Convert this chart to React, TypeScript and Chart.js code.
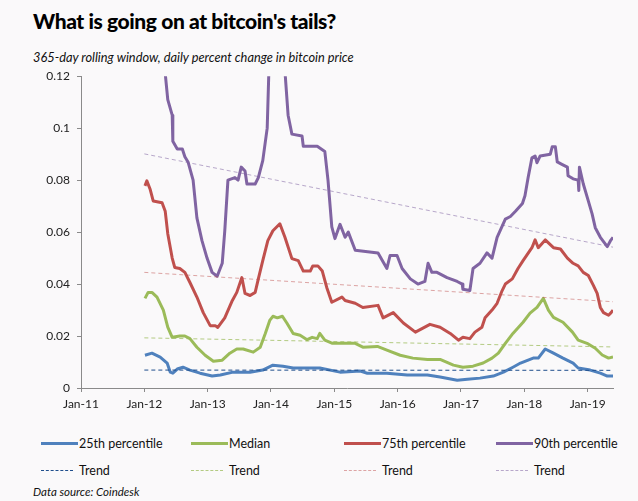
import { useEffect, useRef } from "react"
import { Chart, registerables } from "chart.js"

Chart.register(...registerables)

// x axis ticks (decimal years) and their labels
const tickYears = [2011, 2012, 2013, 2014, 2015, 2016, 2017, 2018, 2019]
const tickLabels = ["Jan-11", "Jan-12", "Jan-13", "Jan-14", "Jan-15", "Jan-16", "Jan-17", "Jan-18", "Jan-19"]

// 25th percentile
const dates25 = [
  2012.01, 2012.12, 2012.25, 2012.36, 2012.41, 2012.45, 2012.52, 2012.61, 2012.72, 2012.88,
  2013.07, 2013.2, 2013.4, 2013.67, 2013.87, 2014.03, 2014.19, 2014.35, 2014.77, 2015.09,
  2015.41, 2015.52, 2015.83, 2016.15, 2016.47, 2016.67, 2016.94, 2017.1, 2017.3, 2017.51,
  2017.67, 2017.82, 2017.94, 2018.14, 2018.22, 2018.33, 2018.46, 2018.61, 2018.77, 2018.85,
  2019.04, 2019.2, 2019.31, 2019.4,
]
const pct25 = [
  0.0126, 0.0134, 0.0119, 0.0096, 0.0061, 0.0057, 0.0073, 0.008, 0.0069, 0.0057,
  0.0046, 0.005, 0.0061, 0.0061, 0.0069, 0.0088, 0.0084, 0.0077, 0.0077, 0.0061,
  0.0065, 0.0057, 0.0057, 0.005, 0.005, 0.0042, 0.003, 0.0034, 0.0038, 0.0046,
  0.0061, 0.008, 0.0096, 0.0115, 0.0115, 0.015, 0.0134, 0.0115, 0.0096, 0.0077,
  0.0069, 0.0057, 0.0046, 0.0046,
]

// median
const datesMed = [
  2012.01, 2012.06, 2012.12, 2012.2, 2012.3, 2012.37, 2012.44, 2012.56, 2012.64, 2012.72,
  2012.83, 2012.96, 2013.09, 2013.23, 2013.35, 2013.46, 2013.56, 2013.72, 2013.83, 2013.91,
  2013.98, 2014.03, 2014.1, 2014.18, 2014.25, 2014.35, 2014.46, 2014.57, 2014.65, 2014.73,
  2014.77, 2014.85, 2014.97, 2015.33, 2015.45, 2015.68, 2015.83, 2016.04, 2016.24, 2016.47,
  2016.67, 2016.88, 2017.03, 2017.19, 2017.35, 2017.49, 2017.59, 2017.7, 2017.82, 2017.98,
  2018.09, 2018.2, 2018.3, 2018.38, 2018.46, 2018.61, 2018.76, 2018.85, 2018.99, 2019.12,
  2019.23, 2019.33, 2019.4,
]
const pctMed = [
  0.0345, 0.0368, 0.0368, 0.035, 0.03, 0.0234, 0.0195, 0.02, 0.02, 0.019,
  0.0157, 0.0126, 0.0103, 0.0107, 0.0134, 0.015, 0.015, 0.0138, 0.0157, 0.021,
  0.026, 0.0276, 0.027, 0.0276, 0.025, 0.021, 0.0203, 0.0186, 0.0195, 0.019,
  0.021, 0.0184, 0.0172, 0.0172, 0.0157, 0.016, 0.0146, 0.0126, 0.0115, 0.011,
  0.011, 0.0088, 0.008, 0.0084, 0.0096, 0.0115, 0.0134, 0.0172, 0.021, 0.0253,
  0.0288, 0.031, 0.0345, 0.03, 0.0272, 0.0253, 0.0215, 0.0184, 0.0172, 0.0153,
  0.0127, 0.0115, 0.0119,
]

// 75th percentile
const dates75 = [
  2012.01, 2012.04, 2012.09, 2012.14, 2012.28, 2012.33, 2012.37, 2012.44, 2012.48, 2012.56,
  2012.64, 2012.72, 2012.83, 2012.93, 2013.04, 2013.12, 2013.16, 2013.27, 2013.39, 2013.46,
  2013.54, 2013.59, 2013.67, 2013.75, 2013.8, 2013.87, 2013.95, 2014.03, 2014.14, 2014.22,
  2014.33, 2014.43, 2014.51, 2014.62, 2014.66, 2014.74, 2014.81, 2014.88, 2014.96, 2015.12,
  2015.17, 2015.33, 2015.45, 2015.69, 2015.77, 2015.93, 2016.09, 2016.28, 2016.51, 2016.67,
  2016.83, 2016.96, 2017.03, 2017.14, 2017.22, 2017.33, 2017.38, 2017.49, 2017.57, 2017.65,
  2017.7, 2017.81, 2017.9, 2017.98, 2018.12, 2018.17, 2018.22, 2018.33, 2018.46, 2018.57,
  2018.68, 2018.77, 2018.85, 2018.93, 2019.01, 2019.09, 2019.15, 2019.2, 2019.25, 2019.33,
  2019.37, 2019.4,
]
const pct75 = [
  0.0778, 0.0797, 0.0766, 0.072, 0.0713, 0.068, 0.0594, 0.05, 0.0464, 0.046,
  0.0445, 0.0406, 0.035, 0.029, 0.024, 0.024, 0.0233, 0.027, 0.0337, 0.0368,
  0.0425, 0.0364, 0.0356, 0.0368, 0.042, 0.049, 0.0567, 0.0605, 0.0632, 0.058,
  0.0498, 0.049, 0.045, 0.045, 0.047, 0.047, 0.045, 0.0387, 0.033, 0.035,
  0.0337, 0.0326, 0.031, 0.0318, 0.027, 0.029, 0.025, 0.0215, 0.0245, 0.0234,
  0.021, 0.0184, 0.0195, 0.019, 0.0215, 0.0234, 0.027, 0.03, 0.0326, 0.0375,
  0.04, 0.042, 0.046, 0.049, 0.054, 0.057, 0.054, 0.057, 0.054, 0.0535,
  0.05, 0.048, 0.047, 0.0445, 0.0433, 0.0395, 0.0364, 0.031, 0.029, 0.028,
  0.029, 0.03,
]

// 90th percentile (goes off the top of the chart twice)
const dates90 = [
  2012.01, 2012.25, 2012.33, 2012.37, 2012.44, 2012.45, 2012.52, 2012.6, 2012.64, 2012.69,
  2012.77, 2012.83, 2012.91, 2012.99, 2013.07, 2013.15, 2013.23, 2013.27, 2013.32, 2013.43,
  2013.48, 2013.53, 2013.59, 2013.62, 2013.75, 2013.8, 2013.87, 2013.94, 2013.97, 2014.02,
  2014.15, 2014.22, 2014.27, 2014.33, 2014.49, 2014.51, 2014.73, 2014.85, 2014.9, 2014.96,
  2015.01, 2015.09, 2015.17, 2015.22, 2015.33, 2015.69, 2015.83, 2015.88, 2015.99, 2016.07,
  2016.2, 2016.32, 2016.43, 2016.48, 2016.54, 2016.62, 2016.78, 2016.94, 2017.02, 2017.03,
  2017.14, 2017.19, 2017.3, 2017.41, 2017.49, 2017.57, 2017.7, 2017.78, 2017.86, 2017.97,
  2018.01, 2018.06, 2018.12, 2018.17, 2018.2, 2018.25, 2018.41, 2018.44, 2018.49, 2018.52,
  2018.6, 2018.68, 2018.69, 2018.77, 2018.85, 2018.86, 2018.87, 2018.93, 2019.01, 2019.07,
  2019.12, 2019.2, 2019.31, 2019.36, 2019.4,
]
const pct90 = [
  0.15, 0.135, 0.121, 0.111, 0.105, 0.095, 0.092, 0.092, 0.089, 0.087,
  0.08, 0.0655, 0.0567, 0.05, 0.0445, 0.043, 0.048, 0.0605, 0.08, 0.081,
  0.08, 0.085, 0.0835, 0.0785, 0.0785, 0.081, 0.0875, 0.1, 0.125, 0.14,
  0.14, 0.122, 0.105, 0.0977, 0.097, 0.093, 0.093, 0.091, 0.08, 0.062,
  0.0575, 0.063, 0.058, 0.06, 0.053, 0.052, 0.046, 0.051, 0.051, 0.046,
  0.042, 0.04, 0.041, 0.048, 0.0445, 0.0445, 0.0425, 0.041, 0.04, 0.038,
  0.0375, 0.046, 0.048, 0.052, 0.05, 0.058, 0.065, 0.066, 0.068, 0.071,
  0.074, 0.081, 0.0886, 0.0893, 0.0867, 0.0893, 0.09, 0.0928, 0.0928, 0.087,
  0.086, 0.085, 0.0817, 0.0805, 0.08, 0.076, 0.085, 0.0786, 0.072, 0.067,
  0.0617, 0.058, 0.0544, 0.0567, 0.058,
]

// linear trend lines (start / end)
const trendDates = [2012.0, 2019.4]
const trend25 = [0.0069, 0.0068]
const trendMed = [0.0193, 0.0158]
const trend75 = [0.0445, 0.0332]
const trend90 = [0.0901, 0.0542]

const BLUE = "#4f81bd"
const GREEN = "#9bbb59"
const RED = "#c0504d"
const PURPLE = "#8064a2"
const BLUE_TREND = "#1f4e8c"
const GREEN_TREND = "rgba(155, 187, 89, 0.75)"
const RED_TREND = "rgba(192, 80, 77, 0.5)"
const PURPLE_TREND = "rgba(128, 100, 162, 0.55)"

const toPoints = (xs: number[], ys: number[]) => xs.map((x, i) => ({ x, y: ys[i] }))

const legendItems = [
  { label: "25th percentile", color: BLUE, dashed: false },
  { label: "Median", color: GREEN, dashed: false },
  { label: "75th percentile", color: RED, dashed: false },
  { label: "90th percentile", color: PURPLE, dashed: false },
  { label: "Trend", color: BLUE_TREND, dashed: true },
  { label: "Trend", color: GREEN_TREND, dashed: true },
  { label: "Trend", color: RED_TREND, dashed: true },
  { label: "Trend", color: PURPLE_TREND, dashed: true },
]
const legendCols = [41, 191, 344, 496]

function TailsChart() {
  const chartRef = useRef<HTMLCanvasElement>(null)
  const chartInstance = useRef<Chart | null>(null)

  useEffect(() => {
    if (!chartRef.current) return
    if (chartInstance.current) chartInstance.current.destroy()

    const ctx = chartRef.current.getContext("2d")
    if (!ctx) return

    const line = (label: string, xs: number[], ys: number[], color: string) => ({
      label,
      data: toPoints(xs, ys),
      borderColor: color,
      backgroundColor: color,
      borderWidth: 3,
      borderJoinStyle: "round" as const,
      pointRadius: 0,
      tension: 0,
    })
    const trend = (ys: number[], color: string) => ({
      label: "Trend",
      data: toPoints(trendDates, ys),
      borderColor: color,
      borderWidth: 1,
      borderDash: [4, 3],
      pointRadius: 0,
    })

    chartInstance.current = new Chart(ctx, {
      type: "line",
      data: {
        datasets: [
          trend(trend25, BLUE_TREND),
          trend(trendMed, GREEN_TREND),
          trend(trend75, RED_TREND),
          trend(trend90, PURPLE_TREND),
          line("90th percentile", dates90, pct90, PURPLE),
          line("75th percentile", dates75, pct75, RED),
          line("Median", datesMed, pctMed, GREEN),
          line("25th percentile", dates25, pct25, BLUE),
        ],
      },
      options: {
        responsive: true,
        maintainAspectRatio: false,
        animation: false,
        layout: { padding: { top: 13, right: 25, bottom: 0, left: 0 } },
        plugins: { legend: { display: false }, tooltip: { enabled: false } },
        scales: {
          x: {
            type: "linear",
            min: 2011,
            max: 2019.4,
            afterBuildTicks: (scale) => {
              scale.ticks = tickYears.map((v) => ({ value: v }))
            },
            afterFit: (scale) => {
              scale.height = 24
            },
            ticks: {
              callback: (v) => tickLabels[tickYears.indexOf(Number(v))] ?? "",
              color: "#222",
              font: { family: "Lato", size: 12 },
              padding: 5,
              maxRotation: 0,
              autoSkip: false,
            },
            grid: { drawOnChartArea: false, tickLength: 4, color: "#8a8a8a" },
            border: { color: "#8a8a8a" },
          },
          y: {
            min: 0,
            max: 0.12,
            ticks: {
              stepSize: 0.02,
              callback: (v) => String(Number(Number(v).toFixed(2))),
              color: "#222",
              font: { family: "Lato", size: 12 },
              padding: 7,
            },
            afterFit: (scale) => {
              scale.width = 81
            },
            grid: { drawOnChartArea: false, tickLength: 4, color: "#8a8a8a" },
            border: { color: "#8a8a8a" },
          },
        },
      },
    })

    return () => {
      if (chartInstance.current) {
        chartInstance.current.destroy()
        chartInstance.current = null
      }
    }
  }, [])

  return (
    <div style={{ position: "absolute", left: 0, top: 62, width: 638, height: 350 }}>
      <canvas ref={chartRef} />
    </div>
  )
}

export default function App() {
  return (
    <div
      style={{
        position: "absolute",
        left: 0,
        top: 0,
        width: 638,
        height: 501,
        background: "#faf9fa",
        fontFamily: "Lato, sans-serif",
        color: "#111",
        overflow: "hidden",
      }}
    >
      <div
        style={{
          position: "absolute",
          left: 33,
          top: 8,
          fontSize: 21,
          fontWeight: 900,
          letterSpacing: -0.4,
          color: "#000",
        }}
      >
        What is going on at bitcoin's tails?
      </div>
      <div style={{ position: "absolute", left: 33, top: 49, fontSize: 12.8, fontStyle: "italic" }}>
        365-day rolling window, daily percent change in bitcoin price
      </div>
      <TailsChart />
      {legendItems.map((item, i) => {
        const col = i % 4
        const row = Math.floor(i / 4)
        return (
          <div
            key={i}
            style={{
              position: "absolute",
              left: legendCols[col],
              top: 435 + row * 27,
              display: "flex",
              alignItems: "center",
              fontSize: 12.5,
              height: 16,
            }}
          >
            <span
              style={{
                display: "inline-block",
                width: item.dashed ? 32 : 37,
                marginRight: item.dashed ? 6 : 1,
                borderTop: item.dashed ? `1px dashed ${item.color}` : `3px solid ${item.color}`,
              }}
            />
            <span>{item.label}</span>
          </div>
        )
      })}
      <div style={{ position: "absolute", left: 33, top: 485, fontSize: 11.5, fontStyle: "italic" }}>
        Data source: Coindesk
      </div>
    </div>
  )
}
